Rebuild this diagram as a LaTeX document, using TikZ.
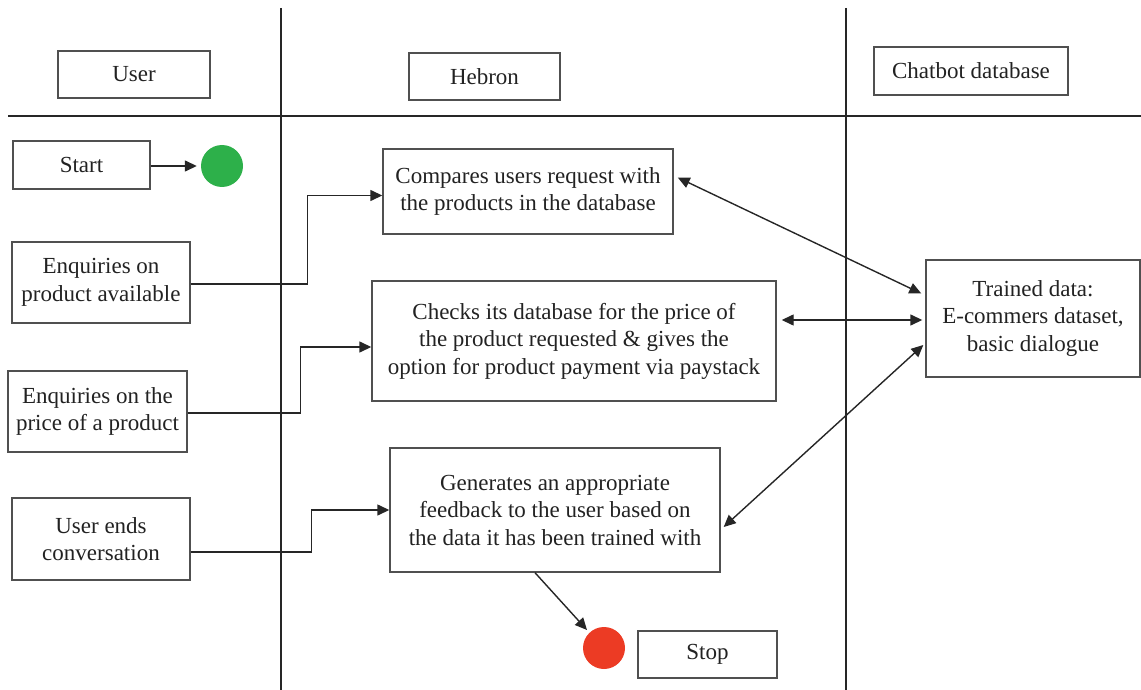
\documentclass[tikz,border=0pt]{standalone}
\usepackage{fontspec}
\setmainfont{Liberation Serif}
\usetikzlibrary{arrows.meta}
\definecolor{boxline}{HTML}{505050}
\definecolor{txt}{HTML}{222222}
\definecolor{startgreen}{HTML}{2DB04A}
\definecolor{stopred}{HTML}{EC3B24}
\tikzset{
  box/.style={draw=boxline, line width=1.4pt, inner sep=0pt, align=center, text=txt,
    font=\fontsize{23}{27.5}\selectfont},
  lane/.style={draw=black!85, line width=1.4pt},
  conn/.style={draw=black!85, line width=1.4pt, -{Triangle[length=12pt,width=11pt]}},
  biconn/.style={draw=black!85, line width=1.4pt, {Triangle[length=12pt,width=11pt]}-{Triangle[length=12pt,width=11pt]}},
  dot/.style={circle, minimum size=42pt, inner sep=0pt},
}
\begin{document}
\begin{tikzpicture}[x=1pt,y=-1pt]
\useasboundingbox (0,0) rectangle (1141,690);
% swimlanes
\draw[lane] (281,8) -- (281,690);
\draw[lane] (846,8) -- (846,690);
\draw[lane] (8,116) -- (1141,116);
% headers
\node[box, minimum width=152pt, minimum height=47pt] (user) at (134,74.5) {User};
\node[box, minimum width=151pt, minimum height=47pt] (hebron) at (484.5,76.5) {Hebron};
\node[box, minimum width=194pt, minimum height=48pt] (chatbot) at (971,71) {Chatbot database};
% user lane
\node[box, minimum width=137pt, minimum height=48pt] (start) at (81.5,165) {Start};
\node[dot, fill=startgreen] (green) at (222,166) {};
\node[box, minimum width=178pt, minimum height=81pt] (enq1) at (101,282.5) {Enquiries on\\product available};
\node[box, minimum width=179pt, minimum height=81pt] (enq2) at (97.5,411.5) {Enquiries on the\\price of a product};
\node[box, minimum width=178pt, minimum height=82pt] (ends) at (101,539) {User ends\\conversation};
% hebron lane
\node[box, minimum width=290pt, minimum height=85pt] (compares) at (528,191.5) {Compares users request with\\the products in the database};
\node[box, minimum width=404pt, minimum height=120pt] (checks) at (574,341) {Checks its database for the price of\\the product requested \& gives the\\option for product payment via paystack};
\node[box, minimum width=330pt, minimum height=124pt] (generates) at (555,510) {Generates an appropriate\\feedback to the user based on\\the data it has been trained with};
\node[dot, fill=stopred] (red) at (604,648) {};
\node[box, minimum width=139pt, minimum height=47pt] (stop) at (707.5,654.5) {Stop};
% chatbot lane
\node[box, minimum width=214pt, minimum height=117pt] (trained) at (1033,318.5) {Trained data:\\E-commers dataset,\\basic dialogue};
% connectors
\draw[conn] ([yshift=-1pt]start.east) -- ([xshift=-4pt]green.west);
\draw[conn] ([yshift=-1.5pt]enq1.east) -- ++(117,0) |- ([yshift=-4pt]compares.west);
\draw[conn] ([yshift=-1.5pt]enq2.east) -- ++(113,0) |- ([yshift=-6pt]checks.west);
\draw[conn] ([yshift=-13pt]ends.east) -- ++(121,0) |- (generates.west);
\draw[biconn] ([xshift=4pt,yshift=14pt]compares.east) -- ([xshift=-4pt,yshift=25pt]trained.west);
\draw[biconn] ([xshift=5pt,yshift=21pt]checks.east) -- ([xshift=-3pt,yshift=-1.5pt]trained.west);
\draw[biconn] ([xshift=3pt,yshift=-17pt]generates.east) -- ([xshift=-2pt,yshift=-26.5pt]trained.west);
\draw[conn] ([xshift=-20pt]generates.south) -- ([xshift=-2pt,yshift=3pt]red.north west);
\end{tikzpicture}
\end{document}
